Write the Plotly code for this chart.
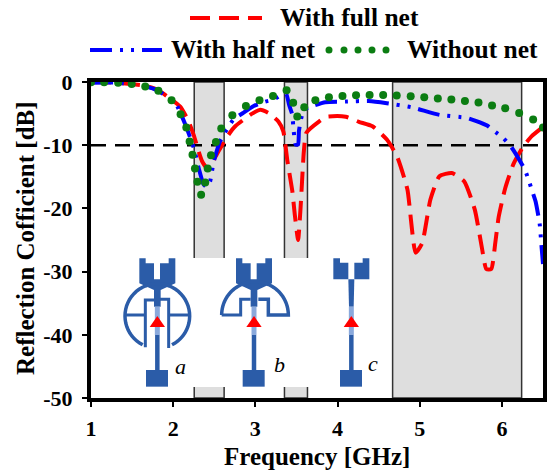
import numpy as np
import plotly.graph_objects as go

W, H = 549, 475
L, R, T, B = 91, 543, 82, 398

full_x = [1.0, 1.3, 1.66, 1.82, 1.98, 2.085, 2.18, 2.25, 2.31, 2.35, 2.41, 2.47, 2.55, 2.67, 2.755, 2.96, 3.06, 3.16, 3.28, 3.34, 3.39, 3.45, 3.48, 3.52, 3.55, 3.59, 3.62, 3.77, 3.87, 4.1, 4.26, 4.425, 4.6, 4.725, 4.85, 4.95, 5.03, 5.13, 5.24, 5.39, 5.54, 5.67, 5.76, 5.81, 5.87, 5.92, 5.96, 6.04, 6.14, 6.26, 6.36, 6.5]
full_y = [0, -0.1, -0.6, -1.3, -2.8, -3.9, -6.0, -8.4, -11, -12.5, -13.6, -12.8, -11, -8.4, -7, -5, -4.4, -4.9, -6.25, -7.8, -12.5, -17.3, -21, -25, -19.9, -11, -8.05, -6.3, -5.5, -5.5, -6.3, -7.0, -9.1, -11.8, -17, -27, -25.5, -18.6, -14.9, -14.4, -15.7, -20.2, -26.5, -29.6, -29.6, -25.4, -21.4, -16.8, -13, -10.2, -8.6, -7.1]

half_x = [1.0, 1.3, 1.66, 1.82, 1.98, 2.04, 2.15, 2.25, 2.31, 2.37, 2.41, 2.45, 2.49, 2.57, 2.73, 2.85, 2.98, 3.12, 3.22, 3.37, 3.41, 3.45, 3.46, 3.49, 3.52, 3.53, 3.55, 3.59, 3.67, 3.85, 4.1, 4.38, 4.6, 4.9, 5.24, 5.58, 5.82, 5.9, 6.02, 6.12, 6.28, 6.33, 6.37, 6.41, 6.46, 6.48, 6.5]
half_y = [-0.1, -0.1, -0.7, -1.4, -2.9, -3.6, -6.8, -10.4, -13.6, -16.2, -16.6, -15.7, -12.8, -9.4, -6, -4.9, -3.8, -3.1, -2.8, -1.7, -3.6, -5.2, -6.8, -9.9, -9.9, -7.8, -6.25, -4.4, -3.9, -3.2, -3.1, -3.0, -3.35, -4, -5.2, -5.7, -6.9, -7.7, -8.9, -10.4, -13.9, -15.7, -17.3, -18.9, -22.5, -25.7, -28.8]

none_x = [1.0, 1.16, 1.33, 1.495, 1.66, 1.82, 1.98, 2.09, 2.16, 2.2, 2.235, 2.265, 2.295, 2.34, 2.39, 2.42, 2.46, 2.52, 2.585, 2.72, 2.885, 3.05, 3.215, 3.38, 3.46, 3.51, 3.595, 3.73, 3.895, 4.06, 4.225, 4.39, 4.555, 4.72, 4.89, 5.055, 5.22, 5.385, 5.55, 5.715, 5.88, 6.04, 6.21, 6.38, 6.5]
none_y = [-0.05, -0.05, -0.1, -0.3, -0.7, -1.4, -2.9, -5.1, -7.2, -9.4, -11.5, -13.7, -15.8, -17.85, -15.9, -13.7, -11.6, -9.5, -7.35, -5.25, -3.8, -2.9, -2.2, -1.3, -3.3, -5.45, -4.0, -2.9, -2.4, -2.2, -2.1, -2.05, -2.05, -2.15, -2.25, -2.4, -2.6, -2.75, -3.0, -3.25, -3.7, -4.15, -4.9, -5.95, -7.2]

bands = [(2.256, 2.62), (3.354, 3.634), (4.67, 6.24)]
x_ticks = [1, 2, 3, 4, 5, 6]
y_ticks = [0, -10, -20, -30, -40, -50]

RED, BLUE, GREEN = "#ff0000", "#0000ff", "#0b7d12"
ANT, LIGHT = "#2b5ca8", "#8aa9dc"
SERIF = "Liberation Serif"
DASH_RED = "20px,9px"
DASH_BLUE = "22px,8px,3px,8px,3px,8px"


def px(x, y):
    return (x - L) / (R - L), (B - y) / (B - T)


def zp(x, y):
    # inset sketch coordinates -> page pixels
    return px(80 + x / 3, 240 + y / 3)


def path(points, close=False):
    s = "M " + " L ".join("%.5f %.5f" % zp(*p) for p in points)
    return s + (" Z" if close else "")


def arc(cx, cy, r, a0, a1):
    t = np.radians(np.linspace(a0, a1, 50))
    return [(cx + r * np.cos(a), cy - r * np.sin(a)) for a in t]


shapes = []
for a, b in bands:
    shapes.append(dict(type="rect", xref="x", yref="y", x0=a, x1=b, y0=-50, y1=0,
                       fillcolor="#dedede", line=dict(color="#333333", width=1.5), layer="below"))
shapes.append(dict(type="line", xref="x", yref="y", x0=1, x1=6.5, y0=-10, y1=-10,
                   line=dict(color="black", width=2.5, dash="15px,9px"), layer="below"))


def add_paper(kind, p0, p1, **kw):
    x0, y0 = px(*p0)
    x1, y1 = px(*p1)
    shapes.append(dict(type=kind, xref="paper", yref="paper", x0=x0, y0=y0, x1=x1, y1=y1, **kw))


# white panel behind the sketches
add_paper("rect", (93, 258), (391, 387), fillcolor="white", line=dict(width=0), layer="above")


def fill(points):
    shapes.append(dict(type="path", xref="paper", yref="paper", path=path(points, True),
                       fillcolor=ANT, line=dict(width=0), layer="above"))


def stroke(points, w, color=ANT):
    shapes.append(dict(type="path", xref="paper", yref="paper", path=path(points),
                       line=dict(color=color, width=w), layer="above"))


def feed(cx, top, taper):
    if taper:
        fill([(cx - 54, 55), (cx - 35, 55), (cx - 35, 70), (cx - 10, 70), (cx - 10, 118), (cx + 8, 118),
              (cx + 8, 70), (cx + 34, 70), (cx + 34, 55), (cx + 54, 55), (cx + 54, 130), (cx + 10, 150),
              (cx + 10, 200), (cx - 10, 200), (cx - 10, 150), (cx - 54, 130)])
    else:
        fill([(cx - 54, 55), (cx - 34, 55), (cx - 34, 68), (cx - 9, 68), (cx - 9, 118), (cx - 54, 118)])
        fill([(cx + 54, 55), (cx + 34, 55), (cx + 34, 68), (cx + 9, 68), (cx + 9, 118), (cx + 54, 118)])
        fill([(cx - 9, 118), (cx + 9, 118), (cx + 7, 200), (cx - 7, 200)])
    stroke([(cx, 200), (cx, 285)], 5, LIGHT)
    stroke([(cx, 285), (cx, 392)], 4.5)
    fill([(cx - 34, 390), (cx + 32, 390), (cx + 32, 440), (cx - 34, 440)])
    shapes.append(dict(type="path", xref="paper", yref="paper",
                       path=path([(cx - 23, 261), (cx + 23, 261), (cx, 228)], True),
                       fillcolor=RED, line=dict(width=0), layer="above"))


# sketch a
feed(232, 55, True)
stroke(arc(232, 228, 97, 243, -63), 3.5)
stroke([(196, 322), (196, 180), (222, 180)], 3)
stroke([(266, 324), (266, 178), (240, 178)], 3)
stroke([(135, 225), (192, 225)], 3)
stroke([(270, 225), (330, 225)], 3)
# sketch b
feed(522, 55, True)
stroke(arc(525, 225, 100, 180, 0) + [(565, 225), (565, 178), (535, 178)], 3.5)
stroke([(425, 225), (482, 225), (482, 178), (512, 178)], 3)
# sketch c
feed(814, 55, False)

# legend keys
add_paper("line", (190, 18), (262, 18), line=dict(color=RED, width=4, dash=DASH_RED), layer="above")
add_paper("line", (90, 50), (162, 50), line=dict(color=BLUE, width=4, dash=DASH_BLUE), layer="above")
for cx in (329, 344, 358, 372, 386):
    add_paper("circle", (cx - 3.5, 46.5), (cx + 3.5, 53.5), fillcolor=GREEN, line=dict(width=0), layer="above")

fig = go.Figure()
fig.add_trace(go.Scatter(x=full_x, y=full_y, mode="lines", name="With full net", cliponaxis=False,
                         line=dict(color=RED, width=4, dash=DASH_RED, shape="spline", smoothing=0.5)))
fig.add_trace(go.Scatter(x=half_x, y=half_y, mode="lines", name="With half net", cliponaxis=False,
                         line=dict(color=BLUE, width=4, dash=DASH_BLUE, shape="spline", smoothing=0.5)))
fig.add_trace(go.Scatter(x=none_x, y=none_y, mode="markers", name="Without net", cliponaxis=False,
                         marker=dict(color=GREEN, size=8)))


def label(text, x, y, size=25.5, anchor="center", **kw):
    xp, yp = px(x, y)
    return dict(text=text, x=xp, y=yp, xref="paper", yref="paper", showarrow=False, xanchor=anchor,
                yanchor="middle", font=dict(family=SERIF, size=size, color="black"), **kw)


annotations = [
    label("<b>With full net</b>", 278, 17, anchor="left"),
    label("<b>With half net</b>", 169, 50, anchor="left"),
    label("<b>Without net</b>", 405, 50, anchor="left"),
    label("<b>Frequency [GHz]</b>", 317, 456, size=25),
    label("<b>Reflection Cofficient [dB]</b>", 25, 238, size=25, textangle=-90),
    label("<i>a</i>", 180, 366, size=22),
    label("<i>b</i>", 279, 364, size=22),
    label("<i>c</i>", 373, 363, size=22),
]

axis_font = dict(family=SERIF, size=22, color="black")
fig.update_layout(
    width=W, height=H,
    margin=dict(l=L, r=W - R, t=T, b=H - B, autoexpand=False),
    paper_bgcolor="white", plot_bgcolor="white", showlegend=False,
    shapes=shapes, annotations=annotations,
    xaxis=dict(range=[1, 6.5], tickvals=x_ticks, ticktext=["<b>%d</b>" % v for v in x_ticks], showgrid=False,
               zeroline=False, showline=True, mirror=True, linecolor="black", linewidth=4,
               ticks="outside", ticklen=5, tickwidth=1.5, tickcolor="black", tickfont=axis_font,
               ticklabelstandoff=3),
    yaxis=dict(range=[-50, 0], tickvals=y_ticks, ticktext=["<b>%d</b>" % v for v in y_ticks], showgrid=False,
               zeroline=False, showline=True, mirror=True, linecolor="black", linewidth=4,
               ticks="outside", ticklen=5, tickwidth=1.5, tickcolor="black", tickfont=axis_font,
               ticklabelstandoff=5),
)
fig.write_html("out.html", config=dict(displayModeBar=False),
               post_script="document.body.style.margin='0';document.body.style.overflow='hidden';")
